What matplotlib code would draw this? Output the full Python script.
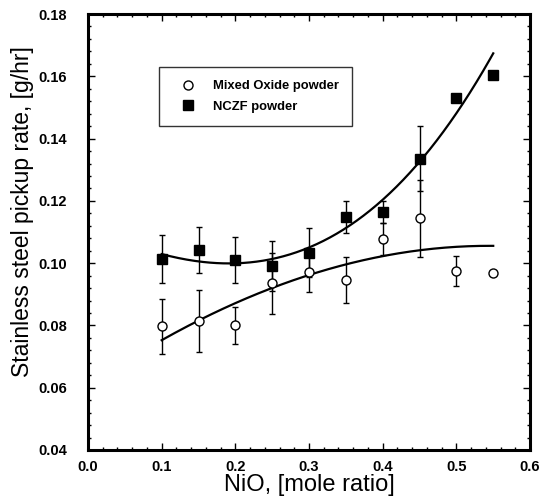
#imports
import matplotlib.pyplot as plt
import numpy as np
from matplotlib.ticker import MultipleLocator

plt.rcParams['font.family'] = ['Liberation Sans', 'DejaVu Sans']

#data
nio = [0.10, 0.15, 0.20, 0.25, 0.30, 0.35, 0.40, 0.45, 0.50, 0.55]
mixed_oxide = [0.0797, 0.0815, 0.0800, 0.0935, 0.0973, 0.0946, 0.1077, 0.1144, 0.0976, 0.0969]
mixed_oxide_err = [0.0088, 0.0100, 0.0060, 0.0098, 0.0065, 0.0073, 0.0052, 0.0123, 0.0048, 0.0]
nczf = [0.1012, 0.1042, 0.1010, 0.0990, 0.1034, 0.1149, 0.1163, 0.1336, 0.1529, 0.1604]
nczf_err = [0.0077, 0.0073, 0.0075, 0.0080, 0.0080, 0.0052, 0.0035, 0.0105, 0.0012, 0.0]

#fitted curves as they appear in the figure (read at the same x values)
fit_mixed_pts = [0.0755, 0.0812, 0.0869, 0.0924, 0.0964, 0.0996, 0.1021, 0.1040, 0.1053, 0.1056]
fit_nczf_pts = [0.1026, 0.1010, 0.1001, 0.1012, 0.1050, 0.1113, 0.1197, 0.1326, 0.1492, 0.1668]

xs = np.linspace(nio[0], nio[-1], 200)
fit_mixed = np.polyval(np.polyfit(nio, fit_mixed_pts, 3), xs)
fit_nczf = np.polyval(np.polyfit(nio, fit_nczf_pts, 3), xs)

#plotting
fig = plt.figure(figsize=(5.51, 5.01), dpi=100)
ax = fig.add_axes([0.1597, 0.1018, 0.8023, 0.8702])

ax.errorbar(nio, mixed_oxide, yerr=mixed_oxide_err, fmt='none', ecolor='black',
            elinewidth=1.0, capsize=2.5, capthick=1.0, zorder=2)
ax.errorbar(nio, nczf, yerr=nczf_err, fmt='none', ecolor='black',
            elinewidth=1.0, capsize=2.5, capthick=1.0, zorder=2)
ax.plot(xs, fit_mixed, color='black', lw=1.6, zorder=2)
ax.plot(xs, fit_nczf, color='black', lw=1.6, zorder=2)
ax.plot(nio, mixed_oxide, 'o', mfc='white', mec='black', mew=1.0, ms=6.5,
        label='Mixed Oxide powder', zorder=3)
ax.plot(nio, nczf, 's', mfc='black', mec='black', ms=6.5, label='NCZF powder', zorder=3)

ax.set_xlim(0.0, 0.6)
ax.set_ylim(0.04, 0.18)
ax.xaxis.set_major_locator(MultipleLocator(0.1))
ax.xaxis.set_minor_locator(MultipleLocator(0.02))
ax.yaxis.set_major_locator(MultipleLocator(0.02))
ax.yaxis.set_minor_locator(MultipleLocator(0.004))
ax.xaxis.set_major_formatter(plt.FormatStrFormatter('%.1f'))
ax.yaxis.set_major_formatter(plt.FormatStrFormatter('%.2f'))
ax.tick_params(which='both', direction='in', top=True, right=True, width=1.0)
ax.tick_params(which='major', length=5, labelsize=10.5)
ax.tick_params(axis='x', which='major', pad=7)
ax.tick_params(axis='y', which='major', pad=15)
ax.tick_params(which='minor', length=2.5)
for lab in ax.get_xticklabels() + ax.get_yticklabels():
    lab.set_fontweight('bold')
for sp in ax.spines.values():
    sp.set_linewidth(2.2)

ax.set_xlabel('NiO, [mole ratio]', fontsize=17, labelpad=0)
ax.set_ylabel('Stainless steel pickup rate, [g/hr]', fontsize=16.5)
ax.yaxis.set_label_coords(-0.122, 0.546)

leg = ax.legend(loc='upper left', bbox_to_anchor=(0.161, 0.878),
                prop={'weight': 'bold', 'size': 9.4}, frameon=True, fancybox=False,
                edgecolor='black', borderpad=1.0, labelspacing=0.65, handlelength=2.46,
                handletextpad=0.69, borderaxespad=0, numpoints=1)
leg.get_frame().set_linewidth(1.0)

fig.savefig('out.png', dpi=100)
